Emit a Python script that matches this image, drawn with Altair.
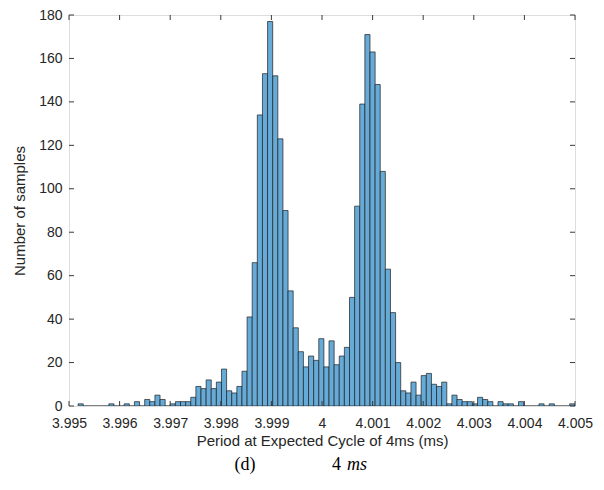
import altair as alt
import pandas as pd

# Histogram data (MATLAB auto-binned, 97 visible bins)
bin_start = 3.99518
bin_width = 0.0001012
counts = [1, 0, 0, 0, 0, 0, 1, 0, 0, 1,
          0, 2, 0, 3, 2, 5, 3, 0, 1, 2,
          2, 2, 4, 9, 8, 12, 8, 11, 17, 7,
          6, 9, 16, 41, 66, 134, 153, 177, 152, 123,
          90, 53, 36, 25, 18, 23, 21, 31, 18, 30,
          19, 23, 27, 50, 92, 139, 171, 163, 148, 108,
          63, 43, 20, 7, 6, 11, 5, 14, 15, 10,
          9, 11, 1, 5, 3, 2, 2, 1, 4, 3,
          2, 0, 2, 1, 1, 0, 2, 0, 0, 0,
          1, 0, 1, 0, 0, 0, 1]

x_ticks = [3.995, 3.996, 3.997, 3.998, 3.999, 4.0, 4.001, 4.002, 4.003, 4.004, 4.005]
y_ticks = [0, 20, 40, 60, 80, 100, 120, 140, 160, 180]
x_title = "Period at Expected Cycle of 4ms (ms)"
y_title = "Number of samples"

W, H = 506, 391
AX = "#3a3a3a"
TXT = "#262626"
FONT = "Liberation Sans"

df = pd.DataFrame({
    "lo": [bin_start + i * bin_width for i in range(len(counts))],
    "hi": [bin_start + (i + 1) * bin_width for i in range(len(counts))],
    "n": counts,
})
xt = pd.DataFrame({"t": x_ticks})
yt = pd.DataFrame({"t": y_ticks})

xs = alt.Scale(domain=[3.995, 4.005], nice=False, zero=False)
ys = alt.Scale(domain=[0, 180], nice=False)

bars = alt.Chart(df).mark_bar(
    color="#66AAD7", stroke="#1f1f1f", strokeWidth=0.7, clip=True, opacity=1
).encode(
    x=alt.X("lo:Q", scale=xs, axis=alt.Axis(
        values=x_ticks, format="~g", ticks=False, domain=False, grid=False,
        labelFont=FONT, labelFontSize=14, labelColor=TXT, labelPadding=10,
        title=x_title, titleFont=FONT, titleFontSize=15, titleFontWeight="normal",
        titleColor=TXT, titlePadding=3, labelFlush=False)),
    x2="hi:Q",
    y=alt.Y("n:Q", scale=ys, axis=alt.Axis(
        values=y_ticks, ticks=False, domain=False, grid=False,
        labelFont=FONT, labelFontSize=14, labelColor=TXT, labelPadding=7,
        title=y_title, titleFont=FONT, titleFontSize=15, titleFontWeight="normal",
        titleColor=TXT, titlePadding=11)),
    y2=alt.datum(0),
)

tick_len = 5
xt_bot = alt.Chart(xt).mark_rule(color=AX, strokeWidth=1).encode(
    x=alt.X("t:Q", scale=xs), y=alt.value(H), y2=alt.value(H - tick_len))
xt_top = alt.Chart(xt).mark_rule(color=AX, strokeWidth=1).encode(
    x=alt.X("t:Q", scale=xs), y=alt.value(0), y2=alt.value(tick_len))
yt_left = alt.Chart(yt).mark_rule(color=AX, strokeWidth=1).encode(
    y=alt.Y("t:Q", scale=ys), x=alt.value(0), x2=alt.value(tick_len))
yt_right = alt.Chart(yt).mark_rule(color=AX, strokeWidth=1).encode(
    y=alt.Y("t:Q", scale=ys), x=alt.value(W), x2=alt.value(W - tick_len))

cap1 = alt.Chart(pd.DataFrame({"s": ["(d)"]})).mark_text(
    font="Liberation Serif", fontSize=18, color="#000000", align="center", baseline="middle"
).encode(text="s:N", x=alt.value(176), y=alt.value(450))
cap2 = alt.Chart(pd.DataFrame({"s": ["4"]})).mark_text(
    font="Liberation Serif", fontSize=18, color="#000000", align="right", baseline="middle"
).encode(text="s:N", x=alt.value(272), y=alt.value(450))
cap3 = alt.Chart(pd.DataFrame({"s": ["ms"]})).mark_text(
    font="Liberation Serif", fontSize=18, fontStyle="italic", color="#000000",
    align="left", baseline="middle"
).encode(text="s:N", x=alt.value(278), y=alt.value(450))

chart = alt.layer(bars, xt_bot, xt_top, yt_left, yt_right, cap1, cap2, cap3).properties(
    width=W, height=H,
    autosize=alt.AutoSizeParams(type="none"),
    padding={"left": 61, "top": 7, "right": 19, "bottom": 70},
).configure_view(stroke=AX, strokeWidth=1).configure(background="white")

chart.save("out.html", embed_options={"renderer": "svg", "actions": False})
